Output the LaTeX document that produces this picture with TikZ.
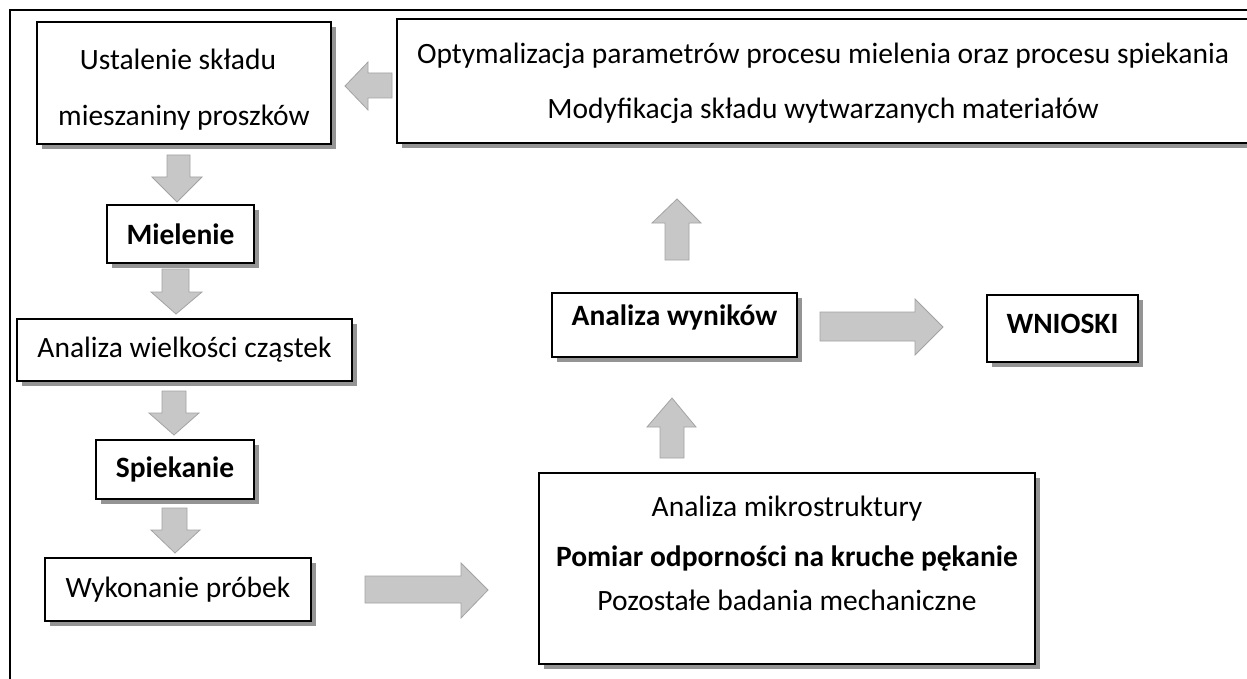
\documentclass[tikz,border=0pt]{standalone}
\usepackage{fontspec}
\setmainfont{Carlito}
\usetikzlibrary{shadows}
\tikzset{
  box/.style={draw=black, line width=1.3pt, fill=white, inner sep=0pt, align=center,
    drop shadow={shadow xshift=5pt, shadow yshift=-5pt, fill=black!42, opacity=1},
    font=\fontsize{29.5}{52}\selectfont},
  boldbox/.style={box, font=\fontsize{29.5}{35}\bfseries},
  txt/.style={inner sep=0pt, align=center},
  barrow/.style={fill=black!22, draw=black!36, line width=0.8pt, line join=miter},
  frame/.style={line width=2pt, draw=black}
}
\begin{document}
\begin{tikzpicture}[x=1pt,y=-1pt]
\useasboundingbox (0,0) rectangle (1247,679);
\clip (0,0) rectangle (1247,679);
\fill[white] (0,0) rectangle (1247,679);
% outer frame (open to the right and bottom)
\coordinate (fbl) at (10,700);
\coordinate (ftl) at (10,10);
\coordinate (ftr) at (1270,10);
\draw[frame] (fbl) -- (ftl) -- (ftr);

% boxes
\node[box, minimum width=294pt, minimum height=122pt] (b1) at (184,83) {};
\node[txt, font=\fontsize{29.5}{56}\selectfont] (b1t) at (184,90)
  {Ustalenie składu\hspace*{12pt}\\mieszaniny proszków};
\node[box, minimum width=852pt, minimum height=124pt, font=\fontsize{29.5}{55}\selectfont] (opt) at (823,81) {};
\node[txt, font=\fontsize{29.5}{55}\selectfont] (optt) at (823,83)
  {Optymalizacja parametrów procesu mielenia oraz procesu spiekania\\Modyfikacja składu wytwarzanych materiałów};
\node[boldbox, minimum width=147pt, minimum height=58pt] (miel) at (180.5,234) {Mielenie};
\node[box, minimum width=335pt, minimum height=62pt] (wielk) at (184.5,350) {Analiza wielkości cząstek};
\node[boldbox, minimum width=158pt, minimum height=59pt] (spiek) at (175,469.5) {Spiekanie};
\node[box, minimum width=266pt, minimum height=63pt] (wyk) at (178,589.5) {Wykonanie próbek};
\node[boldbox, minimum width=245pt, minimum height=64pt] (wyn) at (674.5,325)
  {\raisebox{8pt}[\height][\depth]{Analiza wyników}};
\node[boldbox, minimum width=151pt, minimum height=67pt] (wn) at (1062.5,328.5)
  {\raisebox{5pt}[\height][\depth]{WNIOSKI}};
\node[box, minimum width=496pt, minimum height=191pt] (big) at (787,568.5) {};
\node[txt, font=\fontsize{29.5}{44}\selectfont] (bigt) at (787,553.5)
  {Analiza mikrostruktury\\[6pt]\textbf{Pomiar odporności na kruche pękanie}\\Pozostałe badania mechaniczne};

% block arrows
% opt -> b1 (left)
\draw[barrow] (392,73) -- (368,73) -- (368,62) -- (345,86) -- (368,110) -- (368,98) -- (392,98) -- cycle;
% b1 -> miel
\draw[barrow] (167,155) -- (190,155) -- (190,177) -- (202,177) -- (177,202) -- (152,177) -- (167,177) -- cycle;
% miel -> wielk
\draw[barrow] (162,269) -- (189,269) -- (189,292) -- (202,292) -- (176,314) -- (151,292) -- (162,292) -- cycle;
% wielk -> spiek
\draw[barrow] (162,391) -- (186,391) -- (186,413) -- (199,413) -- (174,435) -- (149,413) -- (162,413) -- cycle;
% spiek -> wyk
\draw[barrow] (162,508) -- (187,508) -- (187,530) -- (200,530) -- (175,553) -- (151,530) -- (162,530) -- cycle;
% wyk -> big (right)
\draw[barrow] (365,576) -- (461,576) -- (461,563) -- (488,590) -- (461,618) -- (461,603) -- (365,603) -- cycle;
% big -> wyn (up)
\draw[barrow] (660,458) -- (660,427) -- (647,427) -- (672,398) -- (696,427) -- (684,427) -- (684,458) -- cycle;
% wyn -> opt (up)
\draw[barrow] (665,260) -- (665,223) -- (652,223) -- (677,199) -- (701,223) -- (689,223) -- (689,260) -- cycle;
% wyn -> wn (right)
\draw[barrow] (820,312) -- (915,312) -- (915,299) -- (943,327) -- (915,355) -- (915,341) -- (820,341) -- cycle;
\end{tikzpicture}
\end{document}
